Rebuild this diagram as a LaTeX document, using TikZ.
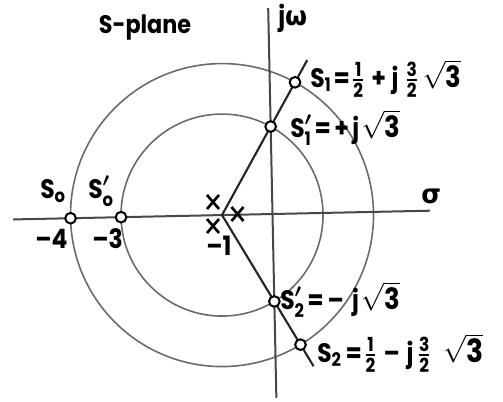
\documentclass[tikz,border=0pt]{standalone}
\usepackage{amsmath}
\usepackage{fontspec}
\setmainfont{Poppins}[FakeStretch=0.88]
\newfontfamily\grk{DejaVu Sans}[FakeStretch=0.95]
\usetikzlibrary{shapes.misc}
\newcommand\subsz{\fontsize{14pt}{14pt}\selectfont}
\newcommand\frsz{\fontsize{14.5pt}{14.5pt}\selectfont}
\newcommand\Ss[1]{\ensuremath{\hbox{S}_{\hbox{\subsz #1}}}}
\newcommand\Sp[1]{{\boldmath\ensuremath{\hbox{S}'_{\hbox{\subsz #1}}}}}
\newcommand\fr[2]{\ensuremath{\genfrac{}{}{1.4pt}{}{\hbox{\frsz #1}}{\hbox{\frsz #2}}}}
\newcommand\rtt[1][22]{\ensuremath{\sqrt{\hbox{\fontsize{#1pt}{#1pt}\selectfont 3}}}}
\newcommand\hs[1]{\hspace{#1pt}}
\begin{document}
\begin{tikzpicture}[x=0.75pt,y=-0.75pt,
  lbl/.style={font=\fontsize{20pt}{20pt}\selectfont\bfseries, inner sep=0pt},
  axisline/.style={draw=black!72, line width=1.5pt},
  locus/.style={draw=black!85, line width=1.6pt},
  circ/.style={draw=black!58, line width=1.2pt},
  pt/.style={circle, draw=black, fill=white, line width=1.5pt, minimum size=8pt, inner sep=0pt},
  pole/.style={cross out, draw=black, line width=2pt, minimum width=7pt, minimum height=8.5pt, inner sep=0pt}
]
\useasboundingbox (0,0) rectangle (503,401);
\begin{scope}[shift={(272.5,214)}, rotate=1.2, x=37.875pt, y=37.875pt]
  \coordinate (B) at (-1,0);
  \coordinate (hl) at (-5.14,0);
  \coordinate (hr) at (3.12,0);
  \coordinate (vt) at (0,4.08);
  \coordinate (vb) at (0,-3.64);
  \coordinate (lu) at (0.75,3.031);
  \coordinate (ld) at (0.75,-3.031);
  \draw[circ] (B) circle (3);
  \draw[circ] (B) circle (2);
  \draw[axisline] (hl) -- (hr);
  \draw[axisline] (vt) -- (vb);
  \draw[locus] (lu) -- (B) -- (ld);
  \node[pt] (s1) at (0.5,2.598) {};
  \node[pt] (s1p) at (0,1.732) {};
  \node[pt] (s2p) at (0,-1.732) {};
  \node[pt] (s2) at (0.5,-2.598) {};
  \node[pt] (s0) at (-4,0) {};
  \node[pt] (s0p) at (-3,0) {};
\end{scope}
\node[pole] (p1) at (213,202) {};
\node[pole] (p2) at (213,226) {};
\node[pole] (p3) at (237.5,214) {};
\node[lbl, font=\fontsize{19pt}{19pt}\selectfont\bfseries] (title) at (145,27) {S-plane};
\node[lbl, anchor=base west] (jw) at (278,25) {j{\grk ω}};
\node[lbl, anchor=base west] (sig) at (421,203) {{\grk σ}};
\node[lbl, anchor=base west] (l1) at (310,87) {\Ss{1}\hs{1.5}=\hs{1.5}\fr{1}{2}\hs{5}+\hs{4}j\hs{5}\fr{3}{2}\hs{3}\rtt};
\node[lbl, anchor=base west] (l1p) at (290,137) {\Sp{1}\hs{2}=\hs{2.5}+\hs{2.5}j\hs{1.5}\rtt};
\node[lbl, anchor=base west] (l2p) at (280,309) {\Sp{2}\hs{2}=\hs{3}–\hs{6}j\hs{1.5}\rtt};
\node[lbl, anchor=base west] (l2) at (317,362) {\Ss{2}\hs{3}=\hs{1.5}\fr{1}{2}\hs{5}–\hs{5}j\hs{3}\fr{3}{2}\hs{9}\rtt[24]};
\node[lbl, anchor=base west] (l0) at (40,198) {\Ss{o}};
\node[lbl, anchor=base west] (l0p) at (88,198) {\Sp{o}};
\node[lbl, anchor=base west] (m4) at (35,248) {–4};
\node[lbl, anchor=base west] (m3) at (92,248) {–3};
\node[lbl, anchor=base west] (m1) at (206,255) {–1};
\end{tikzpicture}
\end{document}
